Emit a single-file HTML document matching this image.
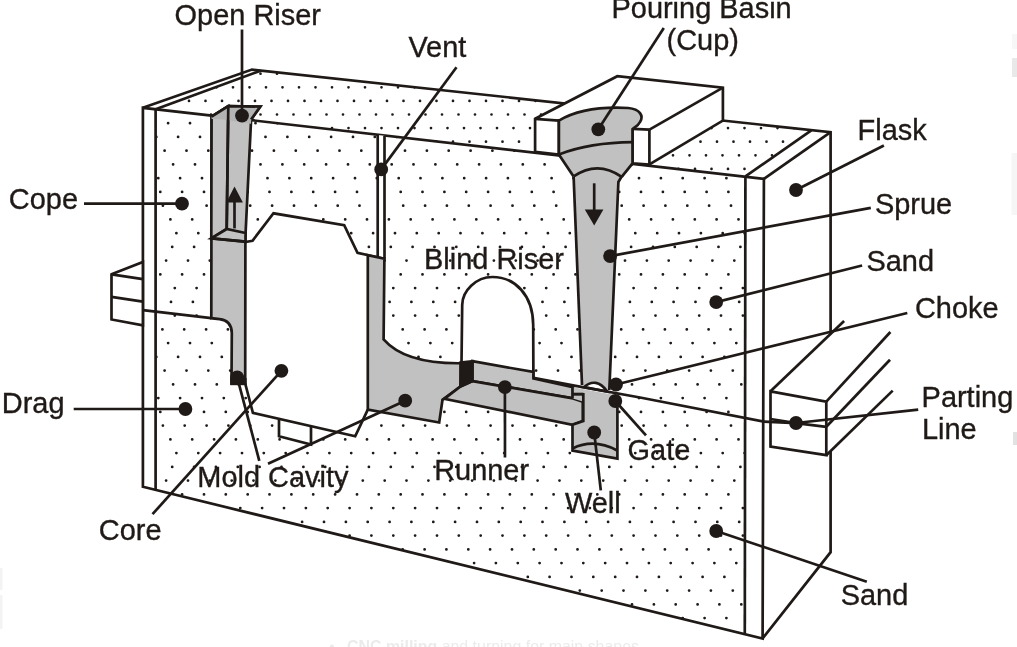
<!DOCTYPE html>
<html><head><meta charset="utf-8"><title>Sand casting mold</title>
<style>html,body{margin:0;padding:0;background:#fff;overflow:hidden}svg{display:block;will-change:transform}</style>
</head><body>
<svg width="1017" height="647" viewBox="0 0 1017 647">
<defs>
<clipPath id="cf"><polygon points="155.6,109.5 745.4,176.4 744.8,634.6 155.6,489.6"/></clipPath>
<clipPath id="ct"><polygon points="155.6,109.5 260.6,70.7 811.3,130.3 745.4,176.4"/></clipPath>
</defs>
<rect width="1017" height="647" fill="#fff"/>
<g clip-path="url(#cf)"><path d="M-25.6,81.9h0M-3.8,81.9h0M18.1,81.9h0M39.9,81.9h0M61.8,81.9h0M83.6,81.9h0M105.5,81.9h0M127.3,81.9h0M149.2,81.9h0M171.0,81.9h0M192.9,81.9h0M214.7,81.9h0M236.6,81.9h0M258.4,81.9h0M280.3,81.9h0M302.1,81.9h0M324.0,81.9h0M345.9,81.9h0M367.7,81.9h0M389.6,81.9h0M411.4,81.9h0M433.3,81.9h0M455.1,81.9h0M477.0,81.9h0M498.8,81.9h0M520.7,81.9h0M542.5,81.9h0M564.4,81.9h0M586.2,81.9h0M608.1,81.9h0M629.9,81.9h0M651.8,81.9h0M673.6,81.9h0M695.5,81.9h0M717.3,81.9h0M739.2,81.9h0M761.0,81.9h0M-21.9,95.7h0M-0.0,95.7h0M21.8,95.7h0M43.7,95.7h0M65.5,95.7h0M87.4,95.7h0M109.2,95.7h0M131.1,95.7h0M152.9,95.7h0M174.8,95.7h0M196.6,95.7h0M218.4,95.7h0M240.3,95.7h0M262.1,95.7h0M284.0,95.7h0M305.9,95.7h0M327.7,95.7h0M349.6,95.7h0M371.4,95.7h0M393.3,95.7h0M415.1,95.7h0M437.0,95.7h0M458.8,95.7h0M480.7,95.7h0M502.5,95.7h0M524.4,95.7h0M546.2,95.7h0M568.1,95.7h0M589.9,95.7h0M611.8,95.7h0M633.6,95.7h0M655.5,95.7h0M677.3,95.7h0M699.2,95.7h0M721.0,95.7h0M742.9,95.7h0M764.7,95.7h0M-34.3,109.4h0M-12.4,109.4h0M9.4,109.4h0M31.3,109.4h0M53.1,109.4h0M75.0,109.4h0M96.8,109.4h0M118.7,109.4h0M140.5,109.4h0M162.4,109.4h0M184.2,109.4h0M206.1,109.4h0M227.9,109.4h0M249.8,109.4h0M271.6,109.4h0M293.5,109.4h0M315.3,109.4h0M337.2,109.4h0M359.0,109.4h0M380.9,109.4h0M402.7,109.4h0M424.6,109.4h0M446.4,109.4h0M468.3,109.4h0M490.1,109.4h0M512.0,109.4h0M533.8,109.4h0M555.7,109.4h0M577.5,109.4h0M599.4,109.4h0M621.2,109.4h0M643.1,109.4h0M664.9,109.4h0M686.8,109.4h0M708.6,109.4h0M730.5,109.4h0M752.3,109.4h0M-28.5,123.2h0M-6.6,123.2h0M15.2,123.2h0M37.1,123.2h0M58.9,123.2h0M80.8,123.2h0M102.6,123.2h0M124.4,123.2h0M146.3,123.2h0M168.1,123.2h0M190.0,123.2h0M211.8,123.2h0M233.7,123.2h0M255.5,123.2h0M277.4,123.2h0M299.2,123.2h0M321.1,123.2h0M343.0,123.2h0M364.8,123.2h0M386.7,123.2h0M408.5,123.2h0M430.4,123.2h0M452.2,123.2h0M474.1,123.2h0M495.9,123.2h0M517.8,123.2h0M539.6,123.2h0M561.5,123.2h0M583.3,123.2h0M605.2,123.2h0M627.0,123.2h0M648.9,123.2h0M670.7,123.2h0M692.6,123.2h0M714.4,123.2h0M736.3,123.2h0M758.1,123.2h0M-18.5,136.9h0M3.4,136.9h0M25.2,136.9h0M47.1,136.9h0M68.9,136.9h0M90.8,136.9h0M112.6,136.9h0M134.4,136.9h0M156.3,136.9h0M178.1,136.9h0M200.0,136.9h0M221.8,136.9h0M243.7,136.9h0M265.5,136.9h0M287.4,136.9h0M309.2,136.9h0M331.1,136.9h0M353.0,136.9h0M374.8,136.9h0M396.7,136.9h0M418.5,136.9h0M440.4,136.9h0M462.2,136.9h0M484.1,136.9h0M505.9,136.9h0M527.8,136.9h0M549.6,136.9h0M571.5,136.9h0M593.3,136.9h0M615.2,136.9h0M637.0,136.9h0M658.9,136.9h0M680.7,136.9h0M702.6,136.9h0M724.4,136.9h0M746.3,136.9h0M768.1,136.9h0M-32.0,150.7h0M-10.1,150.7h0M11.7,150.7h0M33.6,150.7h0M55.4,150.7h0M77.2,150.7h0M99.1,150.7h0M120.9,150.7h0M142.8,150.7h0M164.6,150.7h0M186.5,150.7h0M208.3,150.7h0M230.2,150.7h0M252.0,150.7h0M273.9,150.7h0M295.8,150.7h0M317.6,150.7h0M339.5,150.7h0M361.3,150.7h0M383.2,150.7h0M405.0,150.7h0M426.9,150.7h0M448.7,150.7h0M470.6,150.7h0M492.4,150.7h0M514.3,150.7h0M536.1,150.7h0M558.0,150.7h0M579.8,150.7h0M601.7,150.7h0M623.5,150.7h0M645.4,150.7h0M667.2,150.7h0M689.1,150.7h0M710.9,150.7h0M732.8,150.7h0M754.6,150.7h0M-23.5,164.4h0M-1.6,164.4h0M20.2,164.4h0M42.1,164.4h0M63.9,164.4h0M85.8,164.4h0M107.6,164.4h0M129.4,164.4h0M151.3,164.4h0M173.1,164.4h0M195.0,164.4h0M216.8,164.4h0M238.7,164.4h0M260.5,164.4h0M282.4,164.4h0M304.2,164.4h0M326.1,164.4h0M348.0,164.4h0M369.8,164.4h0M391.7,164.4h0M413.5,164.4h0M435.4,164.4h0M457.2,164.4h0M479.1,164.4h0M500.9,164.4h0M522.8,164.4h0M544.6,164.4h0M566.5,164.4h0M588.3,164.4h0M610.2,164.4h0M632.0,164.4h0M653.9,164.4h0M675.7,164.4h0M697.6,164.4h0M719.4,164.4h0M741.3,164.4h0M763.1,164.4h0M-16.5,178.2h0M5.4,178.2h0M27.2,178.2h0M49.1,178.2h0M70.9,178.2h0M92.8,178.2h0M114.6,178.2h0M136.4,178.2h0M158.3,178.2h0M180.1,178.2h0M202.0,178.2h0M223.8,178.2h0M245.7,178.2h0M267.5,178.2h0M289.4,178.2h0M311.2,178.2h0M333.1,178.2h0M355.0,178.2h0M376.8,178.2h0M398.7,178.2h0M420.5,178.2h0M442.4,178.2h0M464.2,178.2h0M486.1,178.2h0M507.9,178.2h0M529.8,178.2h0M551.6,178.2h0M573.5,178.2h0M595.3,178.2h0M617.2,178.2h0M639.0,178.2h0M660.9,178.2h0M682.7,178.2h0M704.6,178.2h0M726.4,178.2h0M748.3,178.2h0M-14.5,191.9h0M7.4,191.9h0M29.2,191.9h0M51.1,191.9h0M72.9,191.9h0M94.8,191.9h0M116.6,191.9h0M138.4,191.9h0M160.3,191.9h0M182.1,191.9h0M204.0,191.9h0M225.8,191.9h0M247.7,191.9h0M269.5,191.9h0M291.4,191.9h0M313.2,191.9h0M335.1,191.9h0M357.0,191.9h0M378.8,191.9h0M400.7,191.9h0M422.5,191.9h0M444.4,191.9h0M466.2,191.9h0M488.1,191.9h0M509.9,191.9h0M531.8,191.9h0M553.6,191.9h0M575.5,191.9h0M597.3,191.9h0M619.2,191.9h0M641.0,191.9h0M662.9,191.9h0M684.7,191.9h0M706.6,191.9h0M728.4,191.9h0M750.3,191.9h0M-33.8,205.7h0M-11.9,205.7h0M9.9,205.7h0M31.8,205.7h0M53.6,205.7h0M75.5,205.7h0M97.3,205.7h0M119.2,205.7h0M141.0,205.7h0M162.9,205.7h0M184.7,205.7h0M206.6,205.7h0M228.4,205.7h0M250.2,205.7h0M272.1,205.7h0M294.0,205.7h0M315.8,205.7h0M337.7,205.7h0M359.5,205.7h0M381.4,205.7h0M403.2,205.7h0M425.1,205.7h0M446.9,205.7h0M468.8,205.7h0M490.6,205.7h0M512.5,205.7h0M534.3,205.7h0M556.2,205.7h0M578.0,205.7h0M599.9,205.7h0M621.7,205.7h0M643.6,205.7h0M665.4,205.7h0M687.3,205.7h0M709.1,205.7h0M731.0,205.7h0M752.8,205.7h0M-26.3,219.4h0M-4.4,219.4h0M17.4,219.4h0M39.3,219.4h0M61.1,219.4h0M83.0,219.4h0M104.8,219.4h0M126.7,219.4h0M148.5,219.4h0M170.4,219.4h0M192.2,219.4h0M214.1,219.4h0M235.9,219.4h0M257.8,219.4h0M279.6,219.4h0M301.5,219.4h0M323.3,219.4h0M345.2,219.4h0M367.0,219.4h0M388.9,219.4h0M410.7,219.4h0M432.6,219.4h0M454.4,219.4h0M476.3,219.4h0M498.1,219.4h0M520.0,219.4h0M541.8,219.4h0M563.7,219.4h0M585.5,219.4h0M607.4,219.4h0M629.2,219.4h0M651.1,219.4h0M672.9,219.4h0M694.8,219.4h0M716.6,219.4h0M738.5,219.4h0M760.3,219.4h0M-20.2,233.2h0M1.6,233.2h0M23.5,233.2h0M45.3,233.2h0M67.2,233.2h0M89.0,233.2h0M110.9,233.2h0M132.7,233.2h0M154.6,233.2h0M176.4,233.2h0M198.3,233.2h0M220.1,233.2h0M242.0,233.2h0M263.8,233.2h0M285.7,233.2h0M307.5,233.2h0M329.4,233.2h0M351.2,233.2h0M373.1,233.2h0M395.0,233.2h0M416.8,233.2h0M438.7,233.2h0M460.5,233.2h0M482.4,233.2h0M504.2,233.2h0M526.1,233.2h0M547.9,233.2h0M569.8,233.2h0M591.6,233.2h0M613.5,233.2h0M635.3,233.2h0M657.2,233.2h0M679.0,233.2h0M700.9,233.2h0M722.7,233.2h0M744.6,233.2h0M766.4,233.2h0M-24.4,246.9h0M-2.5,246.9h0M19.3,246.9h0M41.2,246.9h0M63.0,246.9h0M84.9,246.9h0M106.7,246.9h0M128.6,246.9h0M150.4,246.9h0M172.2,246.9h0M194.1,246.9h0M215.9,246.9h0M237.8,246.9h0M259.6,246.9h0M281.5,246.9h0M303.4,246.9h0M325.2,246.9h0M347.1,246.9h0M368.9,246.9h0M390.8,246.9h0M412.6,246.9h0M434.5,246.9h0M456.3,246.9h0M478.2,246.9h0M500.0,246.9h0M521.9,246.9h0M543.7,246.9h0M565.6,246.9h0M587.4,246.9h0M609.3,246.9h0M631.1,246.9h0M653.0,246.9h0M674.8,246.9h0M696.7,246.9h0M718.5,246.9h0M740.4,246.9h0M762.2,246.9h0M-30.5,260.6h0M-8.6,260.6h0M13.2,260.6h0M35.1,260.6h0M56.9,260.6h0M78.8,260.6h0M100.6,260.6h0M122.4,260.6h0M144.3,260.6h0M166.1,260.6h0M188.0,260.6h0M209.8,260.6h0M231.7,260.6h0M253.5,260.6h0M275.4,260.6h0M297.2,260.6h0M319.1,260.6h0M341.0,260.6h0M362.8,260.6h0M384.7,260.6h0M406.5,260.6h0M428.4,260.6h0M450.2,260.6h0M472.1,260.6h0M493.9,260.6h0M515.8,260.6h0M537.6,260.6h0M559.5,260.6h0M581.3,260.6h0M603.2,260.6h0M625.0,260.6h0M646.9,260.6h0M668.7,260.6h0M690.6,260.6h0M712.4,260.6h0M734.3,260.6h0M756.1,260.6h0M-14.5,274.4h0M7.4,274.4h0M29.2,274.4h0M51.1,274.4h0M72.9,274.4h0M94.8,274.4h0M116.6,274.4h0M138.4,274.4h0M160.3,274.4h0M182.1,274.4h0M204.0,274.4h0M225.8,274.4h0M247.7,274.4h0M269.5,274.4h0M291.4,274.4h0M313.2,274.4h0M335.1,274.4h0M357.0,274.4h0M378.8,274.4h0M400.7,274.4h0M422.5,274.4h0M444.4,274.4h0M466.2,274.4h0M488.1,274.4h0M509.9,274.4h0M531.8,274.4h0M553.6,274.4h0M575.5,274.4h0M597.3,274.4h0M619.2,274.4h0M641.0,274.4h0M662.9,274.4h0M684.7,274.4h0M706.6,274.4h0M728.4,274.4h0M750.3,274.4h0M-21.9,288.1h0M-0.0,288.1h0M21.8,288.1h0M43.7,288.1h0M65.5,288.1h0M87.4,288.1h0M109.2,288.1h0M131.1,288.1h0M152.9,288.1h0M174.8,288.1h0M196.6,288.1h0M218.4,288.1h0M240.3,288.1h0M262.1,288.1h0M284.0,288.1h0M305.9,288.1h0M327.7,288.1h0M349.6,288.1h0M371.4,288.1h0M393.3,288.1h0M415.1,288.1h0M437.0,288.1h0M458.8,288.1h0M480.7,288.1h0M502.5,288.1h0M524.4,288.1h0M546.2,288.1h0M568.1,288.1h0M589.9,288.1h0M611.8,288.1h0M633.6,288.1h0M655.5,288.1h0M677.3,288.1h0M699.2,288.1h0M721.0,288.1h0M742.9,288.1h0M764.7,288.1h0M-25.6,301.9h0M-3.8,301.9h0M18.1,301.9h0M39.9,301.9h0M61.8,301.9h0M83.6,301.9h0M105.5,301.9h0M127.3,301.9h0M149.2,301.9h0M171.0,301.9h0M192.9,301.9h0M214.7,301.9h0M236.6,301.9h0M258.4,301.9h0M280.3,301.9h0M302.1,301.9h0M324.0,301.9h0M345.9,301.9h0M367.7,301.9h0M389.6,301.9h0M411.4,301.9h0M433.3,301.9h0M455.1,301.9h0M477.0,301.9h0M498.8,301.9h0M520.7,301.9h0M542.5,301.9h0M564.4,301.9h0M586.2,301.9h0M608.1,301.9h0M629.9,301.9h0M651.8,301.9h0M673.6,301.9h0M695.5,301.9h0M717.3,301.9h0M739.2,301.9h0M761.0,301.9h0M-21.9,315.6h0M-0.0,315.6h0M21.8,315.6h0M43.7,315.6h0M65.5,315.6h0M87.4,315.6h0M109.2,315.6h0M131.1,315.6h0M152.9,315.6h0M174.8,315.6h0M196.6,315.6h0M218.4,315.6h0M240.3,315.6h0M262.1,315.6h0M284.0,315.6h0M305.9,315.6h0M327.7,315.6h0M349.6,315.6h0M371.4,315.6h0M393.3,315.6h0M415.1,315.6h0M437.0,315.6h0M458.8,315.6h0M480.7,315.6h0M502.5,315.6h0M524.4,315.6h0M546.2,315.6h0M568.1,315.6h0M589.9,315.6h0M611.8,315.6h0M633.6,315.6h0M655.5,315.6h0M677.3,315.6h0M699.2,315.6h0M721.0,315.6h0M742.9,315.6h0M764.7,315.6h0M-34.3,329.4h0M-12.4,329.4h0M9.4,329.4h0M31.3,329.4h0M53.1,329.4h0M75.0,329.4h0M96.8,329.4h0M118.7,329.4h0M140.5,329.4h0M162.4,329.4h0M184.2,329.4h0M206.1,329.4h0M227.9,329.4h0M249.8,329.4h0M271.6,329.4h0M293.5,329.4h0M315.3,329.4h0M337.2,329.4h0M359.0,329.4h0M380.9,329.4h0M402.7,329.4h0M424.6,329.4h0M446.4,329.4h0M468.3,329.4h0M490.1,329.4h0M512.0,329.4h0M533.8,329.4h0M555.7,329.4h0M577.5,329.4h0M599.4,329.4h0M621.2,329.4h0M643.1,329.4h0M664.9,329.4h0M686.8,329.4h0M708.6,329.4h0M730.5,329.4h0M752.3,329.4h0M-28.5,343.1h0M-6.6,343.1h0M15.2,343.1h0M37.1,343.1h0M58.9,343.1h0M80.8,343.1h0M102.6,343.1h0M124.4,343.1h0M146.3,343.1h0M168.1,343.1h0M190.0,343.1h0M211.8,343.1h0M233.7,343.1h0M255.5,343.1h0M277.4,343.1h0M299.2,343.1h0M321.1,343.1h0M343.0,343.1h0M364.8,343.1h0M386.7,343.1h0M408.5,343.1h0M430.4,343.1h0M452.2,343.1h0M474.1,343.1h0M495.9,343.1h0M517.8,343.1h0M539.6,343.1h0M561.5,343.1h0M583.3,343.1h0M605.2,343.1h0M627.0,343.1h0M648.9,343.1h0M670.7,343.1h0M692.6,343.1h0M714.4,343.1h0M736.3,343.1h0M758.1,343.1h0M-18.5,356.9h0M3.4,356.9h0M25.2,356.9h0M47.1,356.9h0M68.9,356.9h0M90.8,356.9h0M112.6,356.9h0M134.4,356.9h0M156.3,356.9h0M178.1,356.9h0M200.0,356.9h0M221.8,356.9h0M243.7,356.9h0M265.5,356.9h0M287.4,356.9h0M309.2,356.9h0M331.1,356.9h0M353.0,356.9h0M374.8,356.9h0M396.7,356.9h0M418.5,356.9h0M440.4,356.9h0M462.2,356.9h0M484.1,356.9h0M505.9,356.9h0M527.8,356.9h0M549.6,356.9h0M571.5,356.9h0M593.3,356.9h0M615.2,356.9h0M637.0,356.9h0M658.9,356.9h0M680.7,356.9h0M702.6,356.9h0M724.4,356.9h0M746.3,356.9h0M768.1,356.9h0M-32.0,370.6h0M-10.1,370.6h0M11.7,370.6h0M33.6,370.6h0M55.4,370.6h0M77.2,370.6h0M99.1,370.6h0M120.9,370.6h0M142.8,370.6h0M164.6,370.6h0M186.5,370.6h0M208.3,370.6h0M230.2,370.6h0M252.0,370.6h0M273.9,370.6h0M295.8,370.6h0M317.6,370.6h0M339.5,370.6h0M361.3,370.6h0M383.2,370.6h0M405.0,370.6h0M426.9,370.6h0M448.7,370.6h0M470.6,370.6h0M492.4,370.6h0M514.3,370.6h0M536.1,370.6h0M558.0,370.6h0M579.8,370.6h0M601.7,370.6h0M623.5,370.6h0M645.4,370.6h0M667.2,370.6h0M689.1,370.6h0M710.9,370.6h0M732.8,370.6h0M754.6,370.6h0M-23.5,384.4h0M-1.6,384.4h0M20.2,384.4h0M42.1,384.4h0M63.9,384.4h0M85.8,384.4h0M107.6,384.4h0M129.4,384.4h0M151.3,384.4h0M173.1,384.4h0M195.0,384.4h0M216.8,384.4h0M238.7,384.4h0M260.5,384.4h0M282.4,384.4h0M304.2,384.4h0M326.1,384.4h0M348.0,384.4h0M369.8,384.4h0M391.7,384.4h0M413.5,384.4h0M435.4,384.4h0M457.2,384.4h0M479.1,384.4h0M500.9,384.4h0M522.8,384.4h0M544.6,384.4h0M566.5,384.4h0M588.3,384.4h0M610.2,384.4h0M632.0,384.4h0M653.9,384.4h0M675.7,384.4h0M697.6,384.4h0M719.4,384.4h0M741.3,384.4h0M763.1,384.4h0M-16.5,398.1h0M5.4,398.1h0M27.2,398.1h0M49.1,398.1h0M70.9,398.1h0M92.8,398.1h0M114.6,398.1h0M136.4,398.1h0M158.3,398.1h0M180.1,398.1h0M202.0,398.1h0M223.8,398.1h0M245.7,398.1h0M267.5,398.1h0M289.4,398.1h0M311.2,398.1h0M333.1,398.1h0M355.0,398.1h0M376.8,398.1h0M398.7,398.1h0M420.5,398.1h0M442.4,398.1h0M464.2,398.1h0M486.1,398.1h0M507.9,398.1h0M529.8,398.1h0M551.6,398.1h0M573.5,398.1h0M595.3,398.1h0M617.2,398.1h0M639.0,398.1h0M660.9,398.1h0M682.7,398.1h0M704.6,398.1h0M726.4,398.1h0M748.3,398.1h0M-14.5,411.9h0M7.4,411.9h0M29.2,411.9h0M51.1,411.9h0M72.9,411.9h0M94.8,411.9h0M116.6,411.9h0M138.4,411.9h0M160.3,411.9h0M182.1,411.9h0M204.0,411.9h0M225.8,411.9h0M247.7,411.9h0M269.5,411.9h0M291.4,411.9h0M313.2,411.9h0M335.1,411.9h0M357.0,411.9h0M378.8,411.9h0M400.7,411.9h0M422.5,411.9h0M444.4,411.9h0M466.2,411.9h0M488.1,411.9h0M509.9,411.9h0M531.8,411.9h0M553.6,411.9h0M575.5,411.9h0M597.3,411.9h0M619.2,411.9h0M641.0,411.9h0M662.9,411.9h0M684.7,411.9h0M706.6,411.9h0M728.4,411.9h0M750.3,411.9h0M-33.8,425.6h0M-11.9,425.6h0M9.9,425.6h0M31.8,425.6h0M53.6,425.6h0M75.5,425.6h0M97.3,425.6h0M119.2,425.6h0M141.0,425.6h0M162.9,425.6h0M184.7,425.6h0M206.6,425.6h0M228.4,425.6h0M250.2,425.6h0M272.1,425.6h0M294.0,425.6h0M315.8,425.6h0M337.7,425.6h0M359.5,425.6h0M381.4,425.6h0M403.2,425.6h0M425.1,425.6h0M446.9,425.6h0M468.8,425.6h0M490.6,425.6h0M512.5,425.6h0M534.3,425.6h0M556.2,425.6h0M578.0,425.6h0M599.9,425.6h0M621.7,425.6h0M643.6,425.6h0M665.4,425.6h0M687.3,425.6h0M709.1,425.6h0M731.0,425.6h0M752.8,425.6h0M-26.3,439.4h0M-4.4,439.4h0M17.4,439.4h0M39.3,439.4h0M61.1,439.4h0M83.0,439.4h0M104.8,439.4h0M126.7,439.4h0M148.5,439.4h0M170.4,439.4h0M192.2,439.4h0M214.1,439.4h0M235.9,439.4h0M257.8,439.4h0M279.6,439.4h0M301.5,439.4h0M323.3,439.4h0M345.2,439.4h0M367.0,439.4h0M388.9,439.4h0M410.7,439.4h0M432.6,439.4h0M454.4,439.4h0M476.3,439.4h0M498.1,439.4h0M520.0,439.4h0M541.8,439.4h0M563.7,439.4h0M585.5,439.4h0M607.4,439.4h0M629.2,439.4h0M651.1,439.4h0M672.9,439.4h0M694.8,439.4h0M716.6,439.4h0M738.5,439.4h0M760.3,439.4h0M-20.2,453.1h0M1.6,453.1h0M23.5,453.1h0M45.3,453.1h0M67.2,453.1h0M89.0,453.1h0M110.9,453.1h0M132.7,453.1h0M154.6,453.1h0M176.4,453.1h0M198.3,453.1h0M220.1,453.1h0M242.0,453.1h0M263.8,453.1h0M285.7,453.1h0M307.5,453.1h0M329.4,453.1h0M351.2,453.1h0M373.1,453.1h0M395.0,453.1h0M416.8,453.1h0M438.7,453.1h0M460.5,453.1h0M482.4,453.1h0M504.2,453.1h0M526.1,453.1h0M547.9,453.1h0M569.8,453.1h0M591.6,453.1h0M613.5,453.1h0M635.3,453.1h0M657.2,453.1h0M679.0,453.1h0M700.9,453.1h0M722.7,453.1h0M744.6,453.1h0M766.4,453.1h0M-24.4,466.9h0M-2.5,466.9h0M19.3,466.9h0M41.2,466.9h0M63.0,466.9h0M84.9,466.9h0M106.7,466.9h0M128.6,466.9h0M150.4,466.9h0M172.2,466.9h0M194.1,466.9h0M215.9,466.9h0M237.8,466.9h0M259.6,466.9h0M281.5,466.9h0M303.4,466.9h0M325.2,466.9h0M347.1,466.9h0M368.9,466.9h0M390.8,466.9h0M412.6,466.9h0M434.5,466.9h0M456.3,466.9h0M478.2,466.9h0M500.0,466.9h0M521.9,466.9h0M543.7,466.9h0M565.6,466.9h0M587.4,466.9h0M609.3,466.9h0M631.1,466.9h0M653.0,466.9h0M674.8,466.9h0M696.7,466.9h0M718.5,466.9h0M740.4,466.9h0M762.2,466.9h0M-30.5,480.6h0M-8.6,480.6h0M13.2,480.6h0M35.1,480.6h0M56.9,480.6h0M78.8,480.6h0M100.6,480.6h0M122.4,480.6h0M144.3,480.6h0M166.1,480.6h0M188.0,480.6h0M209.8,480.6h0M231.7,480.6h0M253.5,480.6h0M275.4,480.6h0M297.2,480.6h0M319.1,480.6h0M341.0,480.6h0M362.8,480.6h0M384.7,480.6h0M406.5,480.6h0M428.4,480.6h0M450.2,480.6h0M472.1,480.6h0M493.9,480.6h0M515.8,480.6h0M537.6,480.6h0M559.5,480.6h0M581.3,480.6h0M603.2,480.6h0M625.0,480.6h0M646.9,480.6h0M668.7,480.6h0M690.6,480.6h0M712.4,480.6h0M734.3,480.6h0M756.1,480.6h0M-14.5,494.4h0M7.4,494.4h0M29.2,494.4h0M51.1,494.4h0M72.9,494.4h0M94.8,494.4h0M116.6,494.4h0M138.4,494.4h0M160.3,494.4h0M182.1,494.4h0M204.0,494.4h0M225.8,494.4h0M247.7,494.4h0M269.5,494.4h0M291.4,494.4h0M313.2,494.4h0M335.1,494.4h0M357.0,494.4h0M378.8,494.4h0M400.7,494.4h0M422.5,494.4h0M444.4,494.4h0M466.2,494.4h0M488.1,494.4h0M509.9,494.4h0M531.8,494.4h0M553.6,494.4h0M575.5,494.4h0M597.3,494.4h0M619.2,494.4h0M641.0,494.4h0M662.9,494.4h0M684.7,494.4h0M706.6,494.4h0M728.4,494.4h0M750.3,494.4h0M-21.9,508.1h0M-0.0,508.1h0M21.8,508.1h0M43.7,508.1h0M65.5,508.1h0M87.4,508.1h0M109.2,508.1h0M131.1,508.1h0M152.9,508.1h0M174.8,508.1h0M196.6,508.1h0M218.4,508.1h0M240.3,508.1h0M262.1,508.1h0M284.0,508.1h0M305.9,508.1h0M327.7,508.1h0M349.6,508.1h0M371.4,508.1h0M393.3,508.1h0M415.1,508.1h0M437.0,508.1h0M458.8,508.1h0M480.7,508.1h0M502.5,508.1h0M524.4,508.1h0M546.2,508.1h0M568.1,508.1h0M589.9,508.1h0M611.8,508.1h0M633.6,508.1h0M655.5,508.1h0M677.3,508.1h0M699.2,508.1h0M721.0,508.1h0M742.9,508.1h0M764.7,508.1h0M-25.6,521.9h0M-3.8,521.9h0M18.1,521.9h0M39.9,521.9h0M61.8,521.9h0M83.6,521.9h0M105.5,521.9h0M127.3,521.9h0M149.2,521.9h0M171.0,521.9h0M192.9,521.9h0M214.7,521.9h0M236.6,521.9h0M258.4,521.9h0M280.3,521.9h0M302.1,521.9h0M324.0,521.9h0M345.9,521.9h0M367.7,521.9h0M389.6,521.9h0M411.4,521.9h0M433.3,521.9h0M455.1,521.9h0M477.0,521.9h0M498.8,521.9h0M520.7,521.9h0M542.5,521.9h0M564.4,521.9h0M586.2,521.9h0M608.1,521.9h0M629.9,521.9h0M651.8,521.9h0M673.6,521.9h0M695.5,521.9h0M717.3,521.9h0M739.2,521.9h0M761.0,521.9h0M-21.9,535.6h0M-0.0,535.6h0M21.8,535.6h0M43.7,535.6h0M65.5,535.6h0M87.4,535.6h0M109.2,535.6h0M131.1,535.6h0M152.9,535.6h0M174.8,535.6h0M196.6,535.6h0M218.4,535.6h0M240.3,535.6h0M262.1,535.6h0M284.0,535.6h0M305.9,535.6h0M327.7,535.6h0M349.6,535.6h0M371.4,535.6h0M393.3,535.6h0M415.1,535.6h0M437.0,535.6h0M458.8,535.6h0M480.7,535.6h0M502.5,535.6h0M524.4,535.6h0M546.2,535.6h0M568.1,535.6h0M589.9,535.6h0M611.8,535.6h0M633.6,535.6h0M655.5,535.6h0M677.3,535.6h0M699.2,535.6h0M721.0,535.6h0M742.9,535.6h0M764.7,535.6h0M-34.3,549.4h0M-12.4,549.4h0M9.4,549.4h0M31.3,549.4h0M53.1,549.4h0M75.0,549.4h0M96.8,549.4h0M118.7,549.4h0M140.5,549.4h0M162.4,549.4h0M184.2,549.4h0M206.1,549.4h0M227.9,549.4h0M249.8,549.4h0M271.6,549.4h0M293.5,549.4h0M315.3,549.4h0M337.2,549.4h0M359.0,549.4h0M380.9,549.4h0M402.7,549.4h0M424.6,549.4h0M446.4,549.4h0M468.3,549.4h0M490.1,549.4h0M512.0,549.4h0M533.8,549.4h0M555.7,549.4h0M577.5,549.4h0M599.4,549.4h0M621.2,549.4h0M643.1,549.4h0M664.9,549.4h0M686.8,549.4h0M708.6,549.4h0M730.5,549.4h0M752.3,549.4h0M-28.5,563.1h0M-6.6,563.1h0M15.2,563.1h0M37.1,563.1h0M58.9,563.1h0M80.8,563.1h0M102.6,563.1h0M124.4,563.1h0M146.3,563.1h0M168.1,563.1h0M190.0,563.1h0M211.8,563.1h0M233.7,563.1h0M255.5,563.1h0M277.4,563.1h0M299.2,563.1h0M321.1,563.1h0M343.0,563.1h0M364.8,563.1h0M386.7,563.1h0M408.5,563.1h0M430.4,563.1h0M452.2,563.1h0M474.1,563.1h0M495.9,563.1h0M517.8,563.1h0M539.6,563.1h0M561.5,563.1h0M583.3,563.1h0M605.2,563.1h0M627.0,563.1h0M648.9,563.1h0M670.7,563.1h0M692.6,563.1h0M714.4,563.1h0M736.3,563.1h0M758.1,563.1h0M-18.5,576.9h0M3.4,576.9h0M25.2,576.9h0M47.1,576.9h0M68.9,576.9h0M90.8,576.9h0M112.6,576.9h0M134.4,576.9h0M156.3,576.9h0M178.1,576.9h0M200.0,576.9h0M221.8,576.9h0M243.7,576.9h0M265.5,576.9h0M287.4,576.9h0M309.2,576.9h0M331.1,576.9h0M353.0,576.9h0M374.8,576.9h0M396.7,576.9h0M418.5,576.9h0M440.4,576.9h0M462.2,576.9h0M484.1,576.9h0M505.9,576.9h0M527.8,576.9h0M549.6,576.9h0M571.5,576.9h0M593.3,576.9h0M615.2,576.9h0M637.0,576.9h0M658.9,576.9h0M680.7,576.9h0M702.6,576.9h0M724.4,576.9h0M746.3,576.9h0M768.1,576.9h0M-32.0,590.6h0M-10.1,590.6h0M11.7,590.6h0M33.6,590.6h0M55.4,590.6h0M77.2,590.6h0M99.1,590.6h0M120.9,590.6h0M142.8,590.6h0M164.6,590.6h0M186.5,590.6h0M208.3,590.6h0M230.2,590.6h0M252.0,590.6h0M273.9,590.6h0M295.8,590.6h0M317.6,590.6h0M339.5,590.6h0M361.3,590.6h0M383.2,590.6h0M405.0,590.6h0M426.9,590.6h0M448.7,590.6h0M470.6,590.6h0M492.4,590.6h0M514.3,590.6h0M536.1,590.6h0M558.0,590.6h0M579.8,590.6h0M601.7,590.6h0M623.5,590.6h0M645.4,590.6h0M667.2,590.6h0M689.1,590.6h0M710.9,590.6h0M732.8,590.6h0M754.6,590.6h0M-23.5,604.4h0M-1.6,604.4h0M20.2,604.4h0M42.1,604.4h0M63.9,604.4h0M85.8,604.4h0M107.6,604.4h0M129.4,604.4h0M151.3,604.4h0M173.1,604.4h0M195.0,604.4h0M216.8,604.4h0M238.7,604.4h0M260.5,604.4h0M282.4,604.4h0M304.2,604.4h0M326.1,604.4h0M348.0,604.4h0M369.8,604.4h0M391.7,604.4h0M413.5,604.4h0M435.4,604.4h0M457.2,604.4h0M479.1,604.4h0M500.9,604.4h0M522.8,604.4h0M544.6,604.4h0M566.5,604.4h0M588.3,604.4h0M610.2,604.4h0M632.0,604.4h0M653.9,604.4h0M675.7,604.4h0M697.6,604.4h0M719.4,604.4h0M741.3,604.4h0M763.1,604.4h0M-16.5,618.1h0M5.4,618.1h0M27.2,618.1h0M49.1,618.1h0M70.9,618.1h0M92.8,618.1h0M114.6,618.1h0M136.4,618.1h0M158.3,618.1h0M180.1,618.1h0M202.0,618.1h0M223.8,618.1h0M245.7,618.1h0M267.5,618.1h0M289.4,618.1h0M311.2,618.1h0M333.1,618.1h0M355.0,618.1h0M376.8,618.1h0M398.7,618.1h0M420.5,618.1h0M442.4,618.1h0M464.2,618.1h0M486.1,618.1h0M507.9,618.1h0M529.8,618.1h0M551.6,618.1h0M573.5,618.1h0M595.3,618.1h0M617.2,618.1h0M639.0,618.1h0M660.9,618.1h0M682.7,618.1h0M704.6,618.1h0M726.4,618.1h0M748.3,618.1h0M-14.5,631.9h0M7.4,631.9h0M29.2,631.9h0M51.1,631.9h0M72.9,631.9h0M94.8,631.9h0M116.6,631.9h0M138.4,631.9h0M160.3,631.9h0M182.1,631.9h0M204.0,631.9h0M225.8,631.9h0M247.7,631.9h0M269.5,631.9h0M291.4,631.9h0M313.2,631.9h0M335.1,631.9h0M357.0,631.9h0M378.8,631.9h0M400.7,631.9h0M422.5,631.9h0M444.4,631.9h0M466.2,631.9h0M488.1,631.9h0M509.9,631.9h0M531.8,631.9h0M553.6,631.9h0M575.5,631.9h0M597.3,631.9h0M619.2,631.9h0M641.0,631.9h0M662.9,631.9h0M684.7,631.9h0M706.6,631.9h0M728.4,631.9h0M750.3,631.9h0M-33.8,645.6h0M-11.9,645.6h0M9.9,645.6h0M31.8,645.6h0M53.6,645.6h0M75.5,645.6h0M97.3,645.6h0M119.2,645.6h0M141.0,645.6h0M162.9,645.6h0M184.7,645.6h0M206.6,645.6h0M228.4,645.6h0M250.2,645.6h0M272.1,645.6h0M294.0,645.6h0M315.8,645.6h0M337.7,645.6h0M359.5,645.6h0M381.4,645.6h0M403.2,645.6h0M425.1,645.6h0M446.9,645.6h0M468.8,645.6h0M490.6,645.6h0M512.5,645.6h0M534.3,645.6h0M556.2,645.6h0M578.0,645.6h0M599.9,645.6h0M621.7,645.6h0M643.6,645.6h0M665.4,645.6h0M687.3,645.6h0M709.1,645.6h0M731.0,645.6h0M752.8,645.6h0M-26.3,659.4h0M-4.4,659.4h0M17.4,659.4h0M39.3,659.4h0M61.1,659.4h0M83.0,659.4h0M104.8,659.4h0M126.7,659.4h0M148.5,659.4h0M170.4,659.4h0M192.2,659.4h0M214.1,659.4h0M235.9,659.4h0M257.8,659.4h0M279.6,659.4h0M301.5,659.4h0M323.3,659.4h0M345.2,659.4h0M367.0,659.4h0M388.9,659.4h0M410.7,659.4h0M432.6,659.4h0M454.4,659.4h0M476.3,659.4h0M498.1,659.4h0M520.0,659.4h0M541.8,659.4h0M563.7,659.4h0M585.5,659.4h0M607.4,659.4h0M629.2,659.4h0M651.1,659.4h0M672.9,659.4h0M694.8,659.4h0M716.6,659.4h0M738.5,659.4h0M760.3,659.4h0M-20.2,673.1h0M1.6,673.1h0M23.5,673.1h0M45.3,673.1h0M67.2,673.1h0M89.0,673.1h0M110.9,673.1h0M132.7,673.1h0M154.6,673.1h0M176.4,673.1h0M198.3,673.1h0M220.1,673.1h0M242.0,673.1h0M263.8,673.1h0M285.7,673.1h0M307.5,673.1h0M329.4,673.1h0M351.2,673.1h0M373.1,673.1h0M395.0,673.1h0M416.8,673.1h0M438.7,673.1h0M460.5,673.1h0M482.4,673.1h0M504.2,673.1h0M526.1,673.1h0M547.9,673.1h0M569.8,673.1h0M591.6,673.1h0M613.5,673.1h0M635.3,673.1h0M657.2,673.1h0M679.0,673.1h0M700.9,673.1h0M722.7,673.1h0M744.6,673.1h0M766.4,673.1h0M-24.4,686.9h0M-2.5,686.9h0M19.3,686.9h0M41.2,686.9h0M63.0,686.9h0M84.9,686.9h0M106.7,686.9h0M128.6,686.9h0M150.4,686.9h0M172.2,686.9h0M194.1,686.9h0M215.9,686.9h0M237.8,686.9h0M259.6,686.9h0M281.5,686.9h0M303.4,686.9h0M325.2,686.9h0M347.1,686.9h0M368.9,686.9h0M390.8,686.9h0M412.6,686.9h0M434.5,686.9h0M456.3,686.9h0M478.2,686.9h0M500.0,686.9h0M521.9,686.9h0M543.7,686.9h0M565.6,686.9h0M587.4,686.9h0M609.3,686.9h0M631.1,686.9h0M653.0,686.9h0M674.8,686.9h0M696.7,686.9h0M718.5,686.9h0M740.4,686.9h0M762.2,686.9h0" stroke="#1f1a17" stroke-width="2.8" stroke-linecap="round" fill="none"/></g>
<g clip-path="url(#ct)"><path d="M57.0,60.1h0M73.5,60.1h0M90.0,60.1h0M106.5,60.1h0M123.0,60.1h0M139.5,60.1h0M156.0,60.1h0M172.5,60.1h0M189.0,60.1h0M205.5,60.1h0M222.0,60.1h0M238.5,60.1h0M255.0,60.1h0M271.5,60.1h0M288.0,60.1h0M304.5,60.1h0M321.0,60.1h0M337.5,60.1h0M354.0,60.1h0M370.5,60.1h0M387.0,60.1h0M403.5,60.1h0M420.0,60.1h0M436.5,60.1h0M453.0,60.1h0M469.5,60.1h0M486.0,60.1h0M502.5,60.1h0M519.0,60.1h0M535.5,60.1h0M552.0,60.1h0M568.5,60.1h0M585.0,60.1h0M601.5,60.1h0M618.0,60.1h0M634.5,60.1h0M651.0,60.1h0M667.5,60.1h0M684.0,60.1h0M700.5,60.1h0M717.0,60.1h0M733.5,60.1h0M750.0,60.1h0M766.5,60.1h0M783.0,60.1h0M799.5,60.1h0M816.0,60.1h0M62.5,73.7h0M79.0,73.7h0M95.5,73.7h0M112.0,73.7h0M128.5,73.7h0M145.0,73.7h0M161.5,73.7h0M178.0,73.7h0M194.5,73.7h0M211.0,73.7h0M227.5,73.7h0M244.0,73.7h0M260.5,73.7h0M277.0,73.7h0M293.5,73.7h0M310.0,73.7h0M326.5,73.7h0M343.0,73.7h0M359.5,73.7h0M376.0,73.7h0M392.5,73.7h0M409.0,73.7h0M425.5,73.7h0M442.0,73.7h0M458.5,73.7h0M475.0,73.7h0M491.5,73.7h0M508.0,73.7h0M524.5,73.7h0M541.0,73.7h0M557.5,73.7h0M574.0,73.7h0M590.5,73.7h0M607.0,73.7h0M623.5,73.7h0M640.0,73.7h0M656.5,73.7h0M673.0,73.7h0M689.5,73.7h0M706.0,73.7h0M722.5,73.7h0M739.0,73.7h0M755.5,73.7h0M772.0,73.7h0M788.5,73.7h0M805.0,73.7h0M821.5,73.7h0M68.0,87.3h0M84.5,87.3h0M101.0,87.3h0M117.5,87.3h0M134.0,87.3h0M150.5,87.3h0M167.0,87.3h0M183.5,87.3h0M200.0,87.3h0M216.5,87.3h0M233.0,87.3h0M249.5,87.3h0M266.0,87.3h0M282.5,87.3h0M299.0,87.3h0M315.5,87.3h0M332.0,87.3h0M348.5,87.3h0M365.0,87.3h0M381.5,87.3h0M398.0,87.3h0M414.5,87.3h0M431.0,87.3h0M447.5,87.3h0M464.0,87.3h0M480.5,87.3h0M497.0,87.3h0M513.5,87.3h0M530.0,87.3h0M546.5,87.3h0M563.0,87.3h0M579.5,87.3h0M596.0,87.3h0M612.5,87.3h0M629.0,87.3h0M645.5,87.3h0M662.0,87.3h0M678.5,87.3h0M695.0,87.3h0M711.5,87.3h0M728.0,87.3h0M744.5,87.3h0M761.0,87.3h0M777.5,87.3h0M794.0,87.3h0M810.5,87.3h0M827.0,87.3h0M73.5,100.9h0M90.0,100.9h0M106.5,100.9h0M123.0,100.9h0M139.5,100.9h0M156.0,100.9h0M172.5,100.9h0M189.0,100.9h0M205.5,100.9h0M222.0,100.9h0M238.5,100.9h0M255.0,100.9h0M271.5,100.9h0M288.0,100.9h0M304.5,100.9h0M321.0,100.9h0M337.5,100.9h0M354.0,100.9h0M370.5,100.9h0M387.0,100.9h0M403.5,100.9h0M420.0,100.9h0M436.5,100.9h0M453.0,100.9h0M469.5,100.9h0M486.0,100.9h0M502.5,100.9h0M519.0,100.9h0M535.5,100.9h0M552.0,100.9h0M568.5,100.9h0M585.0,100.9h0M601.5,100.9h0M618.0,100.9h0M634.5,100.9h0M651.0,100.9h0M667.5,100.9h0M684.0,100.9h0M700.5,100.9h0M717.0,100.9h0M733.5,100.9h0M750.0,100.9h0M766.5,100.9h0M783.0,100.9h0M799.5,100.9h0M816.0,100.9h0M79.0,114.5h0M95.5,114.5h0M112.0,114.5h0M128.5,114.5h0M145.0,114.5h0M161.5,114.5h0M178.0,114.5h0M194.5,114.5h0M211.0,114.5h0M227.5,114.5h0M244.0,114.5h0M260.5,114.5h0M277.0,114.5h0M293.5,114.5h0M310.0,114.5h0M326.5,114.5h0M343.0,114.5h0M359.5,114.5h0M376.0,114.5h0M392.5,114.5h0M409.0,114.5h0M425.5,114.5h0M442.0,114.5h0M458.5,114.5h0M475.0,114.5h0M491.5,114.5h0M508.0,114.5h0M524.5,114.5h0M541.0,114.5h0M557.5,114.5h0M574.0,114.5h0M590.5,114.5h0M607.0,114.5h0M623.5,114.5h0M640.0,114.5h0M656.5,114.5h0M673.0,114.5h0M689.5,114.5h0M706.0,114.5h0M722.5,114.5h0M739.0,114.5h0M755.5,114.5h0M772.0,114.5h0M788.5,114.5h0M805.0,114.5h0M821.5,114.5h0M84.5,128.1h0M101.0,128.1h0M117.5,128.1h0M134.0,128.1h0M150.5,128.1h0M167.0,128.1h0M183.5,128.1h0M200.0,128.1h0M216.5,128.1h0M233.0,128.1h0M249.5,128.1h0M266.0,128.1h0M282.5,128.1h0M299.0,128.1h0M315.5,128.1h0M332.0,128.1h0M348.5,128.1h0M365.0,128.1h0M381.5,128.1h0M398.0,128.1h0M414.5,128.1h0M431.0,128.1h0M447.5,128.1h0M464.0,128.1h0M480.5,128.1h0M497.0,128.1h0M513.5,128.1h0M530.0,128.1h0M546.5,128.1h0M563.0,128.1h0M579.5,128.1h0M596.0,128.1h0M612.5,128.1h0M629.0,128.1h0M645.5,128.1h0M662.0,128.1h0M678.5,128.1h0M695.0,128.1h0M711.5,128.1h0M728.0,128.1h0M744.5,128.1h0M761.0,128.1h0M777.5,128.1h0M794.0,128.1h0M810.5,128.1h0M827.0,128.1h0M90.0,141.7h0M106.5,141.7h0M123.0,141.7h0M139.5,141.7h0M156.0,141.7h0M172.5,141.7h0M189.0,141.7h0M205.5,141.7h0M222.0,141.7h0M238.5,141.7h0M255.0,141.7h0M271.5,141.7h0M288.0,141.7h0M304.5,141.7h0M321.0,141.7h0M337.5,141.7h0M354.0,141.7h0M370.5,141.7h0M387.0,141.7h0M403.5,141.7h0M420.0,141.7h0M436.5,141.7h0M453.0,141.7h0M469.5,141.7h0M486.0,141.7h0M502.5,141.7h0M519.0,141.7h0M535.5,141.7h0M552.0,141.7h0M568.5,141.7h0M585.0,141.7h0M601.5,141.7h0M618.0,141.7h0M634.5,141.7h0M651.0,141.7h0M667.5,141.7h0M684.0,141.7h0M700.5,141.7h0M717.0,141.7h0M733.5,141.7h0M750.0,141.7h0M766.5,141.7h0M783.0,141.7h0M799.5,141.7h0M816.0,141.7h0M95.5,155.3h0M112.0,155.3h0M128.5,155.3h0M145.0,155.3h0M161.5,155.3h0M178.0,155.3h0M194.5,155.3h0M211.0,155.3h0M227.5,155.3h0M244.0,155.3h0M260.5,155.3h0M277.0,155.3h0M293.5,155.3h0M310.0,155.3h0M326.5,155.3h0M343.0,155.3h0M359.5,155.3h0M376.0,155.3h0M392.5,155.3h0M409.0,155.3h0M425.5,155.3h0M442.0,155.3h0M458.5,155.3h0M475.0,155.3h0M491.5,155.3h0M508.0,155.3h0M524.5,155.3h0M541.0,155.3h0M557.5,155.3h0M574.0,155.3h0M590.5,155.3h0M607.0,155.3h0M623.5,155.3h0M640.0,155.3h0M656.5,155.3h0M673.0,155.3h0M689.5,155.3h0M706.0,155.3h0M722.5,155.3h0M739.0,155.3h0M755.5,155.3h0M772.0,155.3h0M788.5,155.3h0M805.0,155.3h0M821.5,155.3h0M101.0,168.9h0M117.5,168.9h0M134.0,168.9h0M150.5,168.9h0M167.0,168.9h0M183.5,168.9h0M200.0,168.9h0M216.5,168.9h0M233.0,168.9h0M249.5,168.9h0M266.0,168.9h0M282.5,168.9h0M299.0,168.9h0M315.5,168.9h0M332.0,168.9h0M348.5,168.9h0M365.0,168.9h0M381.5,168.9h0M398.0,168.9h0M414.5,168.9h0M431.0,168.9h0M447.5,168.9h0M464.0,168.9h0M480.5,168.9h0M497.0,168.9h0M513.5,168.9h0M530.0,168.9h0M546.5,168.9h0M563.0,168.9h0M579.5,168.9h0M596.0,168.9h0M612.5,168.9h0M629.0,168.9h0M645.5,168.9h0M662.0,168.9h0M678.5,168.9h0M695.0,168.9h0M711.5,168.9h0M728.0,168.9h0M744.5,168.9h0M761.0,168.9h0M777.5,168.9h0M794.0,168.9h0M810.5,168.9h0M827.0,168.9h0M106.5,182.5h0M123.0,182.5h0M139.5,182.5h0M156.0,182.5h0M172.5,182.5h0M189.0,182.5h0M205.5,182.5h0M222.0,182.5h0M238.5,182.5h0M255.0,182.5h0M271.5,182.5h0M288.0,182.5h0M304.5,182.5h0M321.0,182.5h0M337.5,182.5h0M354.0,182.5h0M370.5,182.5h0M387.0,182.5h0M403.5,182.5h0M420.0,182.5h0M436.5,182.5h0M453.0,182.5h0M469.5,182.5h0M486.0,182.5h0M502.5,182.5h0M519.0,182.5h0M535.5,182.5h0M552.0,182.5h0M568.5,182.5h0M585.0,182.5h0M601.5,182.5h0M618.0,182.5h0M634.5,182.5h0M651.0,182.5h0M667.5,182.5h0M684.0,182.5h0M700.5,182.5h0M717.0,182.5h0M733.5,182.5h0M750.0,182.5h0M766.5,182.5h0M783.0,182.5h0M799.5,182.5h0M816.0,182.5h0M112.0,196.1h0M128.5,196.1h0M145.0,196.1h0M161.5,196.1h0M178.0,196.1h0M194.5,196.1h0M211.0,196.1h0M227.5,196.1h0M244.0,196.1h0M260.5,196.1h0M277.0,196.1h0M293.5,196.1h0M310.0,196.1h0M326.5,196.1h0M343.0,196.1h0M359.5,196.1h0M376.0,196.1h0M392.5,196.1h0M409.0,196.1h0M425.5,196.1h0M442.0,196.1h0M458.5,196.1h0M475.0,196.1h0M491.5,196.1h0M508.0,196.1h0M524.5,196.1h0M541.0,196.1h0M557.5,196.1h0M574.0,196.1h0M590.5,196.1h0M607.0,196.1h0M623.5,196.1h0M640.0,196.1h0M656.5,196.1h0M673.0,196.1h0M689.5,196.1h0M706.0,196.1h0M722.5,196.1h0M739.0,196.1h0M755.5,196.1h0M772.0,196.1h0M788.5,196.1h0M805.0,196.1h0M821.5,196.1h0" stroke="#1f1a17" stroke-width="2.7" stroke-linecap="round" fill="none"/></g>
<path d="M142.9,107.8 L252,69.6 L830.6,132.2 L830.6,334" fill="none" stroke="#1f1a17" stroke-width="2.7" stroke-linejoin="miter" stroke-linecap="butt" />
<path d="M142.9,107.8 L142.9,486.8 L762.6,638.5 L763.9,178.8 Z" fill="none" stroke="#1f1a17" stroke-width="2.7" stroke-linejoin="miter" stroke-linecap="butt" />
<line x1="155.6" y1="109.3" x2="155.6" y2="489.8" stroke="#1f1a17" stroke-width="2.7"/>
<line x1="155.6" y1="109.3" x2="260.6" y2="70.7" stroke="#1f1a17" stroke-width="2.7"/>
<line x1="745.4" y1="176.4" x2="744.8" y2="634.5" stroke="#1f1a17" stroke-width="2.7"/>
<line x1="745.4" y1="176.4" x2="811.3" y2="130.3" stroke="#1f1a17" stroke-width="2.7"/>
<line x1="763.9" y1="178.8" x2="830.6" y2="132.2" stroke="#1f1a17" stroke-width="2.7"/>
<path d="M830.6,451 L830.6,552.2 L762.6,638.5" fill="none" stroke="#1f1a17" stroke-width="2.7" stroke-linejoin="miter" stroke-linecap="butt" />
<polygon points="377.7,135 384.5,135.8 384.5,258.8 377.7,257.4" fill="#fff"  />
<line x1="377.7" y1="135" x2="377.7" y2="257.4" stroke="#1f1a17" stroke-width="2.7"/>
<line x1="384.5" y1="135.8" x2="384.5" y2="258.8" stroke="#1f1a17" stroke-width="2.7"/>
<path d="M245.4,242 L252.5,240.8 L273.5,213.3 L344.2,225.1 L357.5,252.9 L384.5,258.8 L368.3,259 L367.8,409.6 L355.2,436.3 L252.9,412.8 L245.2,383.5 Z" fill="#fff"  />
<polygon points="279,418.2 279,436.3 311,444.5 311,425.8" fill="#fff"  />
<path d="M279,418.2 L279,436.3 L311,444.5 L311,425.8" fill="none" stroke="#1f1a17" stroke-width="2.7" stroke-linejoin="miter" stroke-linecap="butt" />
<path d="M211.6,116.6 L228.3,106.1 L260.3,106.6 L251.1,119.5 L245.4,237 L245.2,383.5 L231.5,383.5 L231.8,333 Q231.5,320.5 219.6,319.2 L211.3,318.2 Z" fill="#c1c1c1" stroke="#1f1a17" stroke-width="2.7" stroke-linejoin="miter" stroke-linecap="butt" />
<polygon points="211.6,116.6 228.3,106.1 226.7,229 211.3,238.3" fill="#c3c3c3" stroke="#1f1a17" stroke-width="2.7" stroke-linejoin="miter" stroke-linecap="butt" />
<path d="M211.6,116.6 L228.3,106.1 L260.3,106.6 L251.1,120.5 L251,123.7 L228.2,120.2 L227.2,119.7 L211.6,118.9 Z" fill="#b3b3b3"  />
<path d="M211.6,116.6 L228.3,106.1 L260.3,106.6 L251.1,119.5" fill="none" stroke="#1f1a17" stroke-width="2.7" stroke-linejoin="miter" stroke-linecap="butt" />
<line x1="228.3" y1="106.1" x2="226.7" y2="229" stroke="#1f1a17" stroke-width="2.7"/>
<polygon points="211.3,238.3 226.7,229 245.5,233 245.5,241.7" fill="#c3c3c3" stroke="#1f1a17" stroke-width="2.7" stroke-linejoin="miter" stroke-linecap="butt" />
<line x1="211.3" y1="238.3" x2="245.5" y2="241.7" stroke="#1f1a17" stroke-width="2.7"/>
<path d="M245.4,242 L252.5,240.8 L273.5,213.3 L344.2,225.1 L357.5,252.9 L384.5,258.8" fill="none" stroke="#1f1a17" stroke-width="2.7" stroke-linejoin="miter" stroke-linecap="butt" />
<path d="M245.2,383.5 L252.9,412.8 L355.2,436.3 L367.8,409.6" fill="none" stroke="#1f1a17" stroke-width="2.7" stroke-linejoin="miter" stroke-linecap="butt" />
<line x1="234.5" y1="228.4" x2="234.5" y2="200" stroke="#1f1a17" stroke-width="2.7"/>
<polygon points="234.5,186.5 226.3,202.4 242.9,202.4" fill="#1f1a17"  />
<polygon points="230.2,378 246.6,378 246.6,385.2 230.2,385.2" fill="#1f1a17"  />
<line x1="142.9" y1="310.1" x2="211.3" y2="318.2" stroke="#1f1a17" stroke-width="2.7"/>
<polygon points="111.5,274.3 142.9,262 142.9,325.4 111.5,319.5" fill="#fff" stroke="#1f1a17" stroke-width="2.7" stroke-linejoin="miter" stroke-linecap="butt" />
<line x1="111.5" y1="274.3" x2="142.9" y2="279.2" stroke="#1f1a17" stroke-width="2.7"/>
<line x1="111.5" y1="296.8" x2="142.9" y2="301.6" stroke="#1f1a17" stroke-width="2.7"/>
<path d="M367.8,255.2 L384.4,258.8 L383.6,339.4 Q405,364 461.3,363.2 L460.5,386.5 L442.5,399.8 L439.2,422.5 L367.8,409.5 Z" fill="#c1c1c1" stroke="#1f1a17" stroke-width="2.7" stroke-linejoin="miter" stroke-linecap="butt" />
<path d="M461.5,363 L462.2,305 C462.2,291 476,277 492.3,277 C515,277 533,295 533.2,325 L533.4,372 L472.4,361.2 Z" fill="#fff"  />
<path d="M461.5,363 L462.2,305 C462.2,291 476,277 492.3,277 C515,277 533,295 533.2,325 L533.4,378.5" fill="none" stroke="#1f1a17" stroke-width="2.7" stroke-linejoin="miter" stroke-linecap="butt" />
<polygon points="472.4,361.2 533.4,372 533.4,378.5 573,387.2 573,398.4 472.4,381.1" fill="#c3c3c3" stroke="#1f1a17" stroke-width="2.7" stroke-linejoin="miter" stroke-linecap="butt" />
<polygon points="460.5,386.5 472.4,381.1 573,398.4 582.8,401.6 582.8,421.1 572.5,424.8 444.3,398.8" fill="#c1c1c1" stroke="#1f1a17" stroke-width="2.7" stroke-linejoin="miter" stroke-linecap="butt" />
<polygon points="460.5,362.7 472.4,361.2 472.4,381.1 460.5,386.5" fill="#1f1a17" stroke="#1f1a17" stroke-width="2.7" stroke-linejoin="miter" stroke-linecap="butt" />
<path d="M573,387.2 L617.2,395.5 L617.2,458.7 L572.5,450.5 L572.5,424.8 L582.8,421.1 L582.8,401.6 L573,398.4 Z" fill="#c1c1c1"  />
<path d="M617.4,395.5 L617.4,458.7 L572.5,450.5 L572.5,424.8 L583.3,421.1 L583.3,393" fill="none" stroke="#1f1a17" stroke-width="2.7" stroke-linejoin="miter" stroke-linecap="butt" />
<line x1="572.5" y1="385.4" x2="572.5" y2="398.4" stroke="#1f1a17" stroke-width="2.7"/>
<path d="M572.5,448.5 Q594,438 617.2,450.5" fill="none" stroke="#1f1a17" stroke-width="2.7" stroke-linejoin="miter" stroke-linecap="butt" />
<line x1="572.5" y1="394.2" x2="583.4" y2="394.2" stroke="#1f1a17" stroke-width="3"/>
<path d="M573.4,172 L582,385 L609.3,390 L618.4,182 L622,172 Z" fill="#c1c1c1"  />
<polygon points="618.4,182 622.3,175.8 625,176 622,190" fill="#fff"  />
<line x1="573.6" y1="176.4" x2="582" y2="385" stroke="#1f1a17" stroke-width="2.7"/>
<path d="M622.2,175.5 L618.4,182 L609.3,390" fill="none" stroke="#1f1a17" stroke-width="2.7" stroke-linejoin="miter" stroke-linecap="butt" />
<path d="M583.8,387.2 Q596,376.5 607.3,391.5 Z" fill="#fff" stroke="#1f1a17" stroke-width="2.7" stroke-linejoin="miter" stroke-linecap="butt" />
<line x1="594.2" y1="183.3" x2="594.2" y2="212" stroke="#1f1a17" stroke-width="2.7"/>
<polygon points="594.2,225.5 584.8,209.6 603.4,209.6" fill="#1f1a17"  />
<polygon points="535.1,118.8 617.3,76.2 722.9,87.7 722.9,120.6 649.4,164.5 632.5,163.4 632.5,128.8 558.9,120.6 558.9,154.5 535.1,151.9" fill="#fff" stroke="#1f1a17" stroke-width="2.7" stroke-linejoin="miter" stroke-linecap="butt" />
<line x1="649.4" y1="129.6" x2="722.9" y2="87.7" stroke="#1f1a17" stroke-width="2.7"/>
<line x1="649.4" y1="129.6" x2="649.4" y2="164.5" stroke="#1f1a17" stroke-width="2.7"/>
<line x1="632.5" y1="128.8" x2="649.4" y2="129.6" stroke="#1f1a17" stroke-width="2.7"/>
<line x1="535.1" y1="118.8" x2="558.9" y2="120.6" stroke="#1f1a17" stroke-width="2.7"/>
<path d="M558.9,120.6 C575,111 600,106.5 628.2,108 C640,109 644,116 640,122 C638,126 635,127 632.5,129.2 L632.5,163.4 L621.7,176.8 L573.6,176.4 L558.9,154.5 Z" fill="#c1c1c1"  />
<path d="M573.6,176.4 L558.9,154.5 L558.9,120.6 C575,111 600,106.5 628.2,108 C640,109 644,116 640,122 C638,126 635,127 632.5,129.2 L632.5,163.4 L621.7,176.8" fill="none" stroke="#1f1a17" stroke-width="2.7" stroke-linejoin="miter" stroke-linecap="butt" />
<path d="M558.9,154.5 Q590,142.5 632.5,142.2" fill="none" stroke="#1f1a17" stroke-width="2.7" stroke-linejoin="miter" stroke-linecap="butt" />
<path d="M573.6,176.4 Q597.5,160 621.7,176.8" fill="none" stroke="#1f1a17" stroke-width="2.7" stroke-linejoin="miter" stroke-linecap="butt" />
<path d="M533.4,377.8 L573,385.4 L640,397.5 L763.9,421.7 L796,423.2 L826.3,426.8" fill="none" stroke="#1f1a17" stroke-width="2.7" stroke-linejoin="miter" stroke-linecap="butt" />
<polygon points="770.5,391.3 826.3,401.6 826.3,455.2 770.5,446.5" fill="none" stroke="#1f1a17" stroke-width="2.7" stroke-linejoin="miter" stroke-linecap="butt" />
<line x1="770.5" y1="419" x2="796" y2="423.2" stroke="#1f1a17" stroke-width="2.7"/>
<line x1="770.5" y1="391.3" x2="844.1" y2="321.1" stroke="#1f1a17" stroke-width="2.7"/>
<line x1="826.3" y1="401.6" x2="890.4" y2="332" stroke="#1f1a17" stroke-width="2.7"/>
<line x1="826.3" y1="426.8" x2="890" y2="359.8" stroke="#1f1a17" stroke-width="2.7"/>
<line x1="826.3" y1="455.2" x2="892.7" y2="390.6" stroke="#1f1a17" stroke-width="2.7"/>
<line x1="242" y1="29.5" x2="242" y2="115.6" stroke="#1f1a17" stroke-width="2.7"/>
<circle cx="242" cy="115.6" r="6.9" fill="#1f1a17"/>
<line x1="456.5" y1="67.3" x2="381.2" y2="169.4" stroke="#1f1a17" stroke-width="2.7"/>
<circle cx="381.2" cy="169.4" r="6.9" fill="#1f1a17"/>
<line x1="663.8" y1="28" x2="598.3" y2="129.3" stroke="#1f1a17" stroke-width="2.7"/>
<circle cx="598.3" cy="129.3" r="6.9" fill="#1f1a17"/>
<line x1="883.9" y1="145.5" x2="796" y2="190" stroke="#1f1a17" stroke-width="2.7"/>
<circle cx="796" cy="190" r="6.9" fill="#1f1a17"/>
<line x1="870.8" y1="207.8" x2="610.1" y2="256.1" stroke="#1f1a17" stroke-width="2.7"/>
<circle cx="610.1" cy="256.1" r="6.9" fill="#1f1a17"/>
<line x1="862.1" y1="265.5" x2="716.2" y2="302.1" stroke="#1f1a17" stroke-width="2.7"/>
<circle cx="716.2" cy="302.1" r="6.9" fill="#1f1a17"/>
<line x1="907.3" y1="313" x2="616" y2="384.5" stroke="#1f1a17" stroke-width="2.7"/>
<circle cx="616" cy="384.5" r="6.9" fill="#1f1a17"/>
<line x1="918.2" y1="409.6" x2="796" y2="423" stroke="#1f1a17" stroke-width="2.7"/>
<circle cx="796" cy="423" r="6.9" fill="#1f1a17"/>
<line x1="866.8" y1="581.8" x2="716.2" y2="531" stroke="#1f1a17" stroke-width="2.7"/>
<circle cx="716.2" cy="531" r="6.9" fill="#1f1a17"/>
<line x1="84" y1="203.7" x2="182" y2="203.7" stroke="#1f1a17" stroke-width="2.7"/>
<circle cx="182" cy="203.7" r="6.9" fill="#1f1a17"/>
<line x1="73.7" y1="409" x2="185.4" y2="409" stroke="#1f1a17" stroke-width="2.7"/>
<circle cx="185.4" cy="409" r="6.9" fill="#1f1a17"/>
<line x1="152.5" y1="514.2" x2="281.4" y2="370.8" stroke="#1f1a17" stroke-width="2.7"/>
<circle cx="281.4" cy="370.8" r="6.9" fill="#1f1a17"/>
<line x1="259.3" y1="460.8" x2="237.2" y2="377.3" stroke="#1f1a17" stroke-width="2.7"/>
<circle cx="237.2" cy="377.3" r="6.9" fill="#1f1a17"/>
<line x1="268" y1="463.7" x2="405.2" y2="400.7" stroke="#1f1a17" stroke-width="2.7"/>
<circle cx="405.2" cy="400.7" r="6.9" fill="#1f1a17"/>
<line x1="505" y1="457.4" x2="504.9" y2="387.2" stroke="#1f1a17" stroke-width="2.7"/>
<circle cx="504.9" cy="387.2" r="6.9" fill="#1f1a17"/>
<line x1="600.8" y1="490.4" x2="594.2" y2="432.5" stroke="#1f1a17" stroke-width="2.7"/>
<circle cx="594.2" cy="432.5" r="6.9" fill="#1f1a17"/>
<line x1="646" y1="435.3" x2="615.3" y2="401" stroke="#1f1a17" stroke-width="2.7"/>
<circle cx="615.3" cy="401" r="6.9" fill="#1f1a17"/>
<g font-family="'Liberation Sans', Arial, sans-serif" font-size="28.95" fill="#1f1a17" stroke="#1f1a17" stroke-width="0.35">
<text x="174.6" y="24.9" text-anchor="start">Open Riser</text>
<text x="408.4" y="56.6" text-anchor="start">Vent</text>
<text x="611.5" y="18.3" text-anchor="start">Pouring Basin</text>
<text x="666.5" y="50.1" text-anchor="start">(Cup)</text>
<text x="857.6" y="139.9" text-anchor="start">Flask</text>
<text x="874.9" y="214" text-anchor="start">Sprue</text>
<text x="866.4" y="270.8" text-anchor="start">Sand</text>
<text x="914.9" y="317.7" text-anchor="start">Choke</text>
<text x="921.6" y="407.1" text-anchor="start">Parting</text>
<text x="921.9" y="439.2" text-anchor="start">Line</text>
<text x="840.7" y="604.6" text-anchor="start">Sand</text>
<text x="8.8" y="208.7" text-anchor="start">Cope</text>
<text x="1.8" y="413" text-anchor="start">Drag</text>
<text x="98.8" y="540.2" text-anchor="start">Core</text>
<text x="197.3" y="487.3" text-anchor="start">Mold Cavity</text>
<text x="434.2" y="479.8" text-anchor="start">Runner</text>
<text x="564.9" y="513.3" text-anchor="start">Well</text>
<text x="627.6" y="460.4" text-anchor="start">Gate</text>
<text x="424.0" y="268.5" text-anchor="start">Blind Riser</text>
</g>
<g font-family="'Liberation Sans', Arial, sans-serif" font-size="16.5" fill="#ebebeb"><text x="329" y="652">•</text><text x="347" y="652" textLength="292" lengthAdjust="spacingAndGlyphs"><tspan font-weight="bold">CNC milling</tspan> and turning for main shapes</text></g>
<rect x="1012" y="58" width="5" height="19" fill="#e9e9e9"/><rect x="1012" y="34" width="5" height="15" fill="#f7f7f7"/><rect x="1011.5" y="153" width="5.5" height="62" fill="#f6f6f6"/><rect x="1013" y="432" width="4" height="13" fill="#e2e2e2"/>
<rect x="0" y="568" width="2.5" height="22" fill="#f3f3f3"/><rect x="0" y="595" width="2.5" height="34" fill="#f3f3f3"/>
</svg>
</body></html>
